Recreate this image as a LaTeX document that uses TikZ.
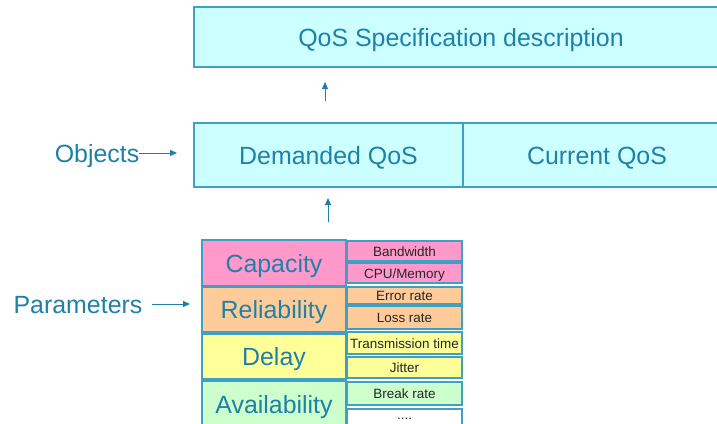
\documentclass[tikz,border=0pt]{standalone}
\usepackage{fontspec}
\setmainfont{Liberation Sans}
\usetikzlibrary{arrows.meta,calc}
\definecolor{tealtxt}{HTML}{1F80A8}
\definecolor{bord}{HTML}{3FA0C4}
\definecolor{cyanfill}{HTML}{CCFFFF}
\definecolor{pinkf}{HTML}{FF99CC}
\definecolor{orangef}{HTML}{FFCC99}
\definecolor{yellowf}{HTML}{FFFF99}
\definecolor{greenf}{HTML}{CCFFCC}
\begin{document}
\begin{tikzpicture}[x=1bp,y=-1bp,
 bigfont/.style={font=\fontsize{25}{30}\selectfont,text height=18bp,text depth=0bp},
 big/.style={draw=bord,line width=1.2bp,fill=cyanfill,text=tealtxt,bigfont,anchor=north west,inner sep=0,outer sep=0},
 parbox/.style={draw=bord,line width=1.5bp,text=tealtxt,bigfont,anchor=north west,inner sep=0,outer sep=0,minimum width=144bp},
 subbox/.style={draw=bord,line width=1.5bp,text=black!85,font=\fontsize{13.5}{16}\selectfont,text height=10bp,text depth=0bp,anchor=north west,inner sep=0,outer sep=0,minimum width=115bp},
 lbl/.style={text=tealtxt,bigfont,inner sep=0},
 arr/.style={draw=tealtxt,line width=1bp,-{Triangle[length=7bp,width=6bp]}}]
\useasboundingbox (0,0) rectangle (717,423);
\clip (0,0) rectangle (717,423);
\fill[white] (0,0) rectangle (717,423);

\node[big,minimum width=534bp,minimum height=60bp] (spec) at (194,7) {QoS Specification description};
\node[big,minimum width=269bp,minimum height=64bp] (dem) at (194,123) {Demanded QoS};
\node[big,minimum width=268bp,minimum height=64bp] (cur) at (463,123) {Current QoS};

\node[parbox,fill=pinkf,minimum height=46bp] (cap) at (202,240) {Capacity};
\node[parbox,fill=orangef,minimum height=45bp] (rel) at (202,287) {Reliability};
\node[parbox,fill=yellowf,minimum height=45bp] (del) at (202,334) {Delay};
\node[parbox,fill=greenf,minimum height=46bp] (ava) at (202,381) {Availability};

\node[subbox,fill=pinkf,minimum height=20bp] (bw) at (347,241) {Bandwidth};
\node[subbox,fill=pinkf,minimum height=20bp] (cpu) at (347,263) {CPU/Memory};
\node[subbox,fill=orangef,minimum height=17bp] (err) at (347,287) {Error rate};
\node[subbox,fill=orangef,minimum height=23bp] (loss) at (347,306) {Loss rate};
\node[subbox,fill=yellowf,minimum height=22bp] (trans) at (347,332) {Transmission time};
\node[subbox,fill=yellowf,minimum height=21bp] (jit) at (347,357) {Jitter};
\node[subbox,fill=greenf,minimum height=23bp] (brk) at (347,382) {Break rate};
\node[subbox,fill=white,minimum height=20bp,text height=1.5bp] (more) at (347,409) {....};

\node[lbl] (obj) at (97,153) {Objects};
\node[lbl] (params) at (78,304) {Parameters};

\draw[arr,shorten <=22bp,shorten >=15bp] ($(dem.north west)+(131,0)$) -- ($(spec.south west)+(131,0)$);
\draw[arr,shorten <=18bp,shorten >=11bp] ($(cap.north west)+(126,0)$) -- ($(dem.south west)+(134,0)$);
\draw[arr,shorten >=17bp] (obj.east) -- (obj.east -| dem.west);
\draw[arr,shorten <=9bp,shorten >=12bp] (params.east) -- (params.east -| rel.west);
\end{tikzpicture}
\end{document}
